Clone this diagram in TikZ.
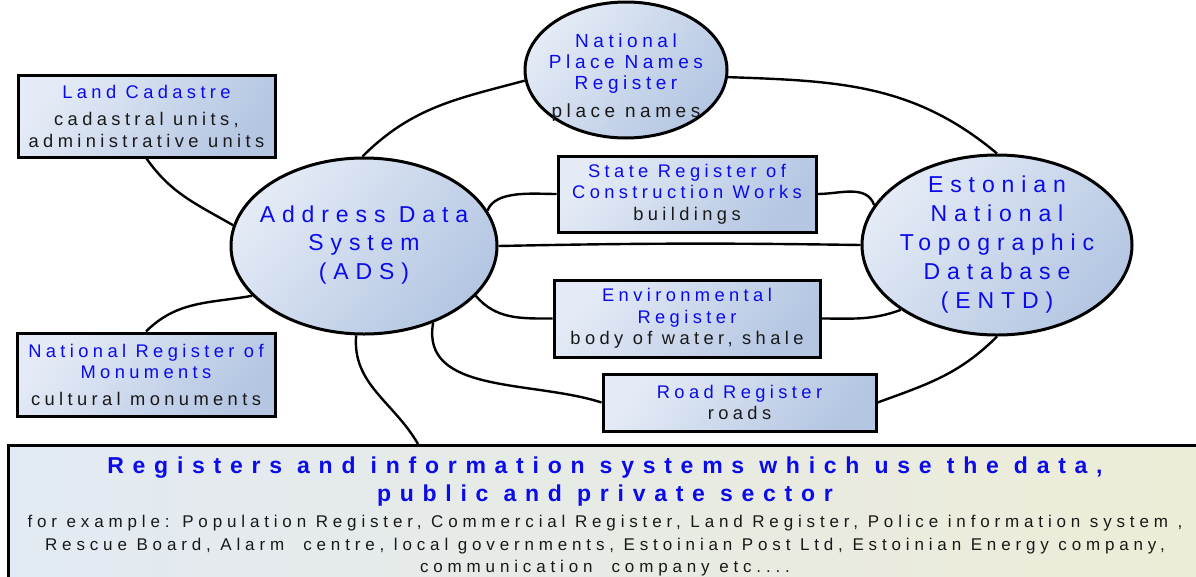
\documentclass[tikz,border=0pt]{standalone}
\usepackage{fontspec}
\setmainfont{Liberation Sans}
\newfontfamily\lblfont[LetterSpace=24]{Liberation Sans}
\newfontfamily\bigfont[LetterSpace=30]{Liberation Sans}
\newfontfamily\ttlfont[LetterSpace=38]{Liberation Sans}
\newfontfamily\smlfont[LetterSpace=28.5]{Liberation Sans}
\usetikzlibrary{shapes.geometric,calc}
\definecolor{tblue}{RGB}{10,10,235}
\definecolor{tblack}{RGB}{25,25,25}
\definecolor{fl}{RGB}{228,235,246}
\definecolor{fd}{RGB}{180,198,226}
\definecolor{bl}{RGB}{226,234,243}
\definecolor{br}{RGB}{237,236,214}
\tikzset{
  rbox/.style={rectangle, draw=black, line width=3pt, top color=fl, bottom color=fd, shading angle=50,
    inner sep=0pt, align=center, font=\lblfont\fontsize{18.3}{21.5}\selectfont, text=tblack},
  ellnode/.style={ellipse, draw=black, line width=3pt, top color=fl, bottom color=fd, shading angle=50,
    inner sep=0pt},
  elltext/.style={align=center, font=\bigfont\fontsize{23}{28.5}\selectfont, text=tblue, inner sep=0pt},
  conn/.style={line width=2.4pt, black},
  bbox/.style={rectangle, draw=black, line width=3pt, left color=bl, right color=br, inner sep=0pt},
}
\begin{document}
\begin{tikzpicture}[x=1pt,y=-1pt]
\useasboundingbox (0,0) rectangle (1196,576);
\clip (0,0) rectangle (1196,576);

\node[rbox, minimum width=257pt, minimum height=82pt] (land) at (146.5,116)
  {{\color{tblue}Land Cadastre}\\[6pt]cadastral units,\\administrative units};
\node[ellnode, minimum width=202pt, minimum height=136pt] (pn) at (626,70) {};
\node[align=center, inner sep=0pt, font=\lblfont\fontsize{19}{21}\selectfont, text=tblack] (pnT) at (626,77.5)
  {{\color{tblue}National}\\{\color{tblue}Place Names}\\{\color{tblue}Register}\\[7pt]place names};
\node[ellnode, minimum width=266pt, minimum height=176pt] (ads) at (364,246) {};
\node[elltext] (adsT) at (364,245) {Address Data\\System\\(ADS)};
\node[ellnode, minimum width=270pt, minimum height=180pt] (entd) at (997,245) {};
\node[elltext, font=\bigfont\fontsize{23}{29}\selectfont] (entdT) at (997,244.5)
  {Estonian\\National\\Topographic\\Database\\(ENTD)};
\node[rbox, minimum width=258pt, minimum height=76pt] (state) at (687,194)
  {{\color{tblue}State Register of}\\{\color{tblue}Construction Works}\\buildings};
\node[rbox, minimum width=266pt, minimum height=77pt] (env) at (687,318.5)
  {{\color{tblue}Environmental}\\{\color{tblue}Register}\\body of water, shale};
\node[rbox, minimum width=258pt, minimum height=83pt] (mon) at (146,374.5)
  {{\color{tblue}National Register of}\\{\color{tblue}Monuments}\\[5pt]cultural monuments};
\node[rbox, minimum width=273pt, minimum height=57pt] (road) at (739.5,402.5)
  {{\color{tblue}Road Register}\\roads};
\node[bbox, anchor=north west, minimum width=1200pt, minimum height=145pt] (bottom) at (7,444) {};
\coordinate (bt) at ($(bottom.north west)+(411,0)$);
\node[align=center, inner sep=0pt, font=\smlfont\fontsize{17}{22.5}\selectfont, text=tblack] (bottomT) at (605,516.5)
  {{\ttlfont\bfseries\fontsize{23}{22.5}\selectfont\color{tblue}Registers and information systems which use the data,}\\[5.5pt]
   {\ttlfont\bfseries\fontsize{23}{22.5}\selectfont\color{tblue}public and private sector}\\[4pt]
   for example: Population Register, Commercial Register, Land Register, Police information system ,\\
   Rescue Board, Alarm~ centre, local governments, Estoinian Post Ltd, Estoinian Energy company,\\
   communication~ company etc....};

\draw[conn] (land.south) to[out=-55, in=150] (ads.171);
\draw[conn] (ads.91) to[out=45, in=195] (pn.186);
\draw[conn] (pn.-4) to[out=-2, in=140] (entd.north);
\draw[conn] (ads.16) to[out=70, in=180, looseness=0.8] (state.west);
\draw[conn] (state.east) to[out=0, in=110] (entd.162);
\draw[conn] (ads.east) to[bend left=1] (entd.west);
\draw[conn] (ads.336) to[out=-50, in=180] (env.west);
\draw[conn] (env.east) to[out=0, in=200] (entd.214);
\draw[conn] (ads.312) to[out=-100, in=162] (road.west);
\draw[conn] (road.east) to[out=20, in=-135] (entd.south);
\draw[conn] (mon.north) to[out=45, in=190] (ads.204);
\draw[conn] (ads.265) to[out=-95, in=120] (bt);
\end{tikzpicture}
\end{document}
